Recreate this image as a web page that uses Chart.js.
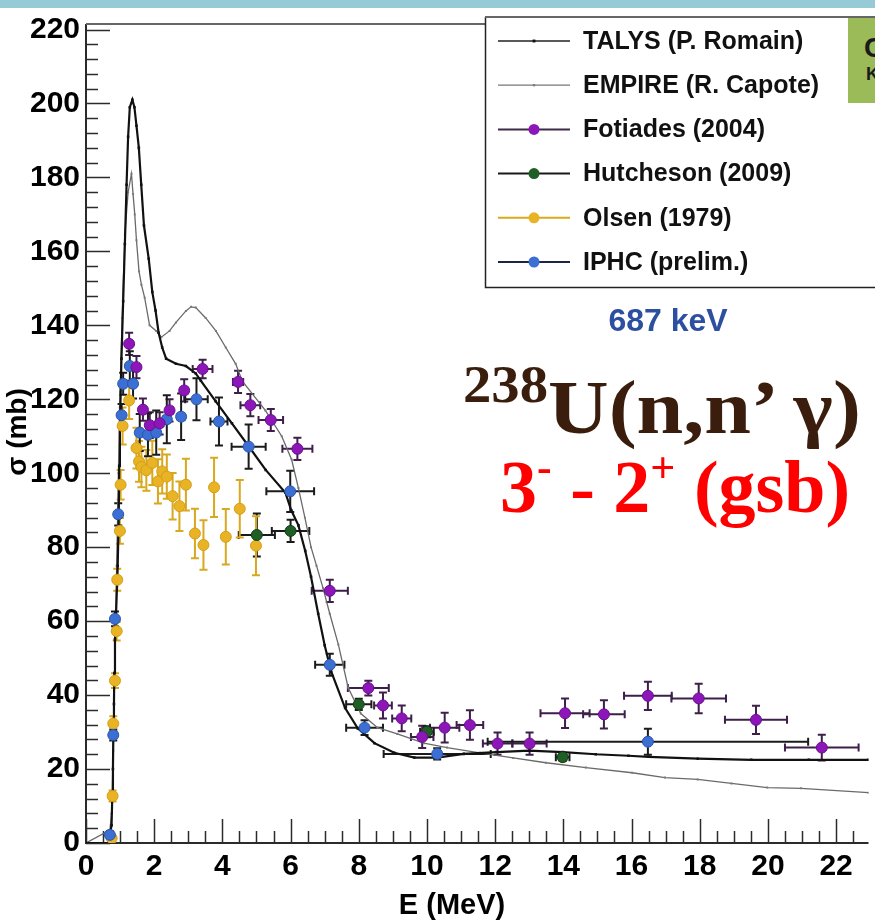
<!DOCTYPE html>
<html>
<head>
<meta charset="utf-8">
<script src="https://cdn.jsdelivr.net/npm/chart.js@4.4.1/dist/chart.umd.min.js"></script>
<style>
    body { margin: 0; background: #fff; }
    #wrap { position: relative; width: 875px; height: 920px; overflow: hidden; }
    #band { position: absolute; left: 0; top: 0; width: 875px; height: 8px; background: #96cad6; }
    #greenBox { position: absolute; left: 848px; top: 18px; width: 40px; height: 85px; background: #9bbb59;
                font: bold 28px "Liberation Sans", Arial, sans-serif; color: #1a1a1a; overflow: hidden; }
    .note { position: absolute; white-space: nowrap; font-weight: bold; line-height: 1; }
    #energy { left: 668px; top: 320px; transform: translate(-50%, -50%); color: #2d4fa0;
              font-family: "Liberation Sans", Arial, sans-serif; font-size: 32px; }
    #reaction { left: 463px; top: 369px; color: #3a1d0c; font-family: "Liberation Serif", "Times New Roman", serif; font-size: 77px;
                transform: scaleX(1.09); transform-origin: left top; }
    #reaction span { font-size: 52px; position: relative; top: -31px; }
    #transition { left: 500px; top: 450px; color: #ff0000; font-family: "Liberation Serif", "Times New Roman", serif; font-size: 74px; }
    #transition span { font-size: 44px; position: relative; top: -30px; }
</style>
</head>
<body>
<div id="wrap">
    <canvas id="xsChart" width="875" height="920"></canvas>
    <div id="band"></div>
    <div id="greenBox"><div style="position:absolute;left:16px;top:14px">C</div><div style="position:absolute;left:18px;top:46px;font-size:18px">K</div></div>
    <div class="note" id="energy">687 keV</div>
    <div class="note" id="reaction"><span>238</span>U(n,n’ γ)</div>
    <div class="note" id="transition">3<span>-</span> - 2<span>+</span> (gsb)</div>
</div>

<script>
// TALYS calculation (P. Romain)
const talysE = [0, 0.66, 0.75, 0.77, 0.79, 0.80, 0.82, 0.83, 0.85, 0.88, 0.93, 0.96, 0.975, 0.995, 1.04, 1.09, 1.14, 1.19, 1.235, 1.285,
    1.36, 1.42, 1.48, 1.55, 1.62, 1.70, 1.84, 1.945, 2.04, 2.13, 2.235, 2.35, 2.64, 2.93, 3.22, 3.37, 3.8, 4.28, 4.77, 5.27,
    5.85, 6.02, 6.23, 6.43, 6.6, 6.81, 7.0, 7.19, 7.6, 7.97, 8.46, 9.04, 9.63, 10.3, 11.08, 12.04, 13.0, 13.99, 14.95, 15.91,
    16.5, 17.94, 19.51, 21.2, 22.95];
const talysSigma = [0, 0, 4.8, 12.3, 20, 28, 37.6, 46, 55, 61.7, 75, 88.5, 102, 112.7, 131, 146.5, 162, 178, 191, 199,
    201, 199, 194, 188, 178, 167, 158, 149, 144, 138, 134, 131, 129.6, 129, 127, 125, 119.5, 113.5, 107.3, 100.9,
    94.7, 90, 85.9, 79, 72, 62, 53.5, 46.4, 36.5, 31, 27, 24.4, 23.1, 23.1, 24.1, 24.6, 25, 24.6, 24, 23.6,
    23.3, 22.8, 22.5, 22.5, 22.5];

// EMPIRE calculation (R. Capote)
const empireE = [0, 0.7, 0.75, 0.8, 0.85, 0.9, 0.95, 1.0, 1.06, 1.14, 1.235, 1.334, 1.38, 1.43, 1.48, 1.555, 1.625, 1.72, 1.865, 2.06,
    2.21, 2.45, 2.64, 2.93, 3.08, 3.22, 3.51, 3.81, 4.10, 4.39, 4.58, 5.26, 5.74, 6.03, 6.23, 6.42, 6.6, 6.76, 6.95, 7.15,
    7.4, 7.69, 8.06, 8.55, 9.13, 9.91, 10.59, 11.55, 12.53, 13.49, 14.66, 16.02, 16.98, 17.94, 18.93, 19.98, 20.97, 22.95];
const empireSigma = [0, 3.5, 8, 25, 50, 75, 100, 122, 142, 164.5, 176, 181, 175.5, 170, 163, 154.6, 151, 147.5, 140, 138.5,
    136.8, 138.5, 140.8, 143.9, 145, 144.8, 142, 138.5, 134, 129.6, 125, 117, 110, 103.7, 96, 88, 80, 75, 69, 62,
    53.7, 42, 35, 31.2, 29.5, 27, 25.8, 24.4, 23, 21.7, 20.4, 19, 17.7, 17.2, 16.1, 15, 14.8, 13.6];

// Fotiades (2004)
const fotiadesE = [1.265, 1.48, 1.67, 1.87, 2.16, 2.45, 2.88, 3.42, 4.46, 4.82, 5.42, 6.2, 7.15, 8.28, 8.71, 9.26, 9.86, 10.52,
    11.26, 12.07, 13.01, 14.05, 15.19, 16.48, 17.97, 19.65, 21.58];
const fotiadesSigma = [135, 128.7, 117.2, 113, 113.5, 117, 122.4, 128.2, 124.7, 118.4, 114.4, 106.6, 68.2, 41.9, 37.2, 33.7, 28.7, 31.2,
    31.9, 26.9, 26.9, 35.1, 34.8, 39.8, 39.1, 33.3, 25.8];
const fotiadesDE = [0.05, 0.05, 0.05, 0.05, 0.05, 0.1, 0.1, 0.29, 0.15, 0.29, 0.36, 0.44, 0.53, 0.6, 0.26, 0.28, 0.33, 0.43,
    0.39, 0.43, 0.5, 0.72, 0.61, 0.7, 0.8, 0.91, 1.08];
const fotiadesDSigma = [3, 3, 3, 3.5, 3, 3, 3, 2.5, 3, 3, 3, 3, 3, 2, 3.5, 3.5, 3, 4, 4, 3, 3, 4, 3.8, 3.8, 4, 3.8, 3.5];

// Hutcheson (2009)
const hutchesonE = [5.01, 6.0, 8.0, 10.0, 13.98];
const hutchesonSigma = [83.3, 84.4, 37.5, 30.1, 23.2];
const hutchesonDE = [0.53, 0.55, 0.37, 0.2, 0.2];
const hutchesonDSigma = [5.8, 3, 1.5, 1.5, 1];

// Olsen (1979)
const olsenE = [0.753, 0.78, 0.80, 0.85, 0.90, 0.916, 0.994, 1.015, 1.073, 1.265, 1.48, 1.555, 1.625, 1.77, 1.945, 2.11, 2.235,
    2.37, 2.54, 2.74, 2.93, 3.195, 3.445, 3.756, 4.10, 4.51, 4.985];
const olsenSigma = [1.3, 12.7, 32.3, 43.9, 57.3, 71.2, 84.4, 96.9, 112.8, 119.7, 106.8, 103.2, 101.7, 100.8, 102.8, 97.8, 100.5,
    99.1, 93.8, 91.1, 96.9, 83.7, 80.6, 96.2, 82.8, 90.4, 80.4];
const olsenDSigma = [1, 1.5, 2, 2, 2.5, 3, 3.5, 4, 5, 5, 5.5, 5.5, 5.5, 5.5, 6, 6, 6, 6, 6.3, 6.7, 7, 6.7, 6.7, 8, 7.5, 7.8, 8];

// IPHC (prelim.)
const iphcE = [0.70, 0.80, 0.85, 0.945, 1.044, 1.09, 1.285, 1.38, 1.576, 1.817, 2.06, 2.37, 2.79, 3.24, 3.90, 4.77, 5.99, 7.15,
    8.17, 10.3, 16.48];
const iphcSigma = [2.2, 29.2, 60.6, 88.9, 115.7, 124.2, 129, 124.2, 111, 110.4, 111, 114.6, 115.3, 120, 114, 107.2, 95.1, 48.2,
    31.2, 24.1, 27.4];
const iphcDE = [0.02, 0.02, 0.02, 0.02, 0.02, 0.02, 0.02, 0.02, 0.05, 0.05, 0.05, 0.1, 0.1, 0.33, 0.25, 0.5, 0.7, 0.43, 0.54, 1.57, 4.7];
const iphcDSigma = [1, 1.5, 2, 3, 3, 3, 4, 4, 5, 5.8, 6, 6.5, 6.3, 5.7, 6.5, 6, 5.6, 3, 2, 1.5, 3.5];

function points(xs, ys, dxs, dys) {
    return xs.map((x, i) => ({ x: x, y: ys[i], dx: dxs ? dxs[i] : 0, dy: dys ? dys[i] : 0 }));
}

const fontFamily = '"Liberation Sans", Arial, sans-serif';

// ROOT style frame: axes lines, inner ticks, axis titles
const frame = {
    id: 'frame',
    beforeDatasetsDraw(chart) {
        const { ctx, chartArea: a, scales: { x, y } } = chart;
        ctx.save();
        ctx.strokeStyle = '#2b2b2b';
        ctx.lineWidth = 1.5;
        for (let v = 0; v <= 221; v += 4) {
            const py = Math.round(y.getPixelForValue(v)) + 0.5;
            const len = v % 20 === 0 ? 24 : 12;
            ctx.beginPath(); ctx.moveTo(a.left, py); ctx.lineTo(a.left + len, py); ctx.stroke();
        }
        for (let v = 0; v <= 22.95; v += 0.5) {
            const px = Math.round(x.getPixelForValue(v)) + 0.5;
            const len = v % 2 === 0 ? 24 : 12;
            ctx.beginPath(); ctx.moveTo(px, a.bottom); ctx.lineTo(px, a.bottom - len); ctx.stroke();
        }
        ctx.lineWidth = 2;
        ctx.beginPath(); ctx.moveTo(a.left, a.top); ctx.lineTo(a.left, a.bottom); ctx.lineTo(a.right, a.bottom); ctx.stroke();
        ctx.strokeStyle = '#666';
        ctx.beginPath(); ctx.moveTo(a.left, a.top); ctx.lineTo(a.right, a.top); ctx.stroke();
        ctx.restore();
    },
    afterDraw(chart) {
        const { ctx } = chart;
        ctx.save();
        ctx.fillStyle = '#000';
        ctx.font = 'bold 29px ' + fontFamily;
        ctx.textAlign = 'center';
        ctx.textBaseline = 'middle';
        ctx.fillText('E (MeV)', 452, 906);
        ctx.translate(18, 432);
        ctx.rotate(-Math.PI / 2);
        ctx.font = 'bold 28px ' + fontFamily;
        ctx.fillText('σ (mb)', 0, 0);
        ctx.restore();
    }
};

const errorBars = {
    id: 'errorBars',
    beforeDatasetsDraw(chart) {
        const { ctx, scales: { x, y } } = chart;
        ctx.save();
        ctx.lineWidth = 2;
        chart.data.datasets.forEach(ds => {
            if (!ds.errColor) return;
            ctx.strokeStyle = ds.errColor;
            ds.data.forEach(p => {
                const px = x.getPixelForValue(p.x), py = y.getPixelForValue(p.y);
                if (p.dy) {
                    const y1 = y.getPixelForValue(p.y - p.dy), y2 = y.getPixelForValue(p.y + p.dy);
                    ctx.beginPath();
                    ctx.moveTo(px, y1); ctx.lineTo(px, y2);
                    ctx.moveTo(px - 4, y1); ctx.lineTo(px + 4, y1);
                    ctx.moveTo(px - 4, y2); ctx.lineTo(px + 4, y2);
                    ctx.stroke();
                }
                if (p.dx) {
                    const x1 = x.getPixelForValue(p.x - p.dx), x2 = x.getPixelForValue(p.x + p.dx);
                    ctx.beginPath();
                    ctx.moveTo(x1, py); ctx.lineTo(x2, py);
                    ctx.moveTo(x1, py - 4); ctx.lineTo(x1, py + 4);
                    ctx.moveTo(x2, py - 4); ctx.lineTo(x2, py + 4);
                    ctx.stroke();
                }
            });
        });
        ctx.restore();
    }
};

// legend box in the upper right corner, like the ROOT TLegend
const legendBox = {
    id: 'legendBox',
    afterDraw(chart) {
        const { ctx } = chart;
        ctx.save();
        ctx.fillStyle = '#fff';
        ctx.fillRect(485, 17, 400, 270);
        ctx.strokeStyle = '#222';
        ctx.lineWidth = 1.5;
        ctx.beginPath(); ctx.moveTo(485.5, 17); ctx.lineTo(485.5, 287.5); ctx.lineTo(875, 287.5); ctx.stroke();
        ctx.strokeStyle = '#666';
        ctx.lineWidth = 2;
        ctx.beginPath(); ctx.moveTo(485, 17); ctx.lineTo(875, 17); ctx.stroke();
        chart.data.datasets.forEach((ds, i) => {
            const cy = 41 + i * 44.2;
            ctx.strokeStyle = ds.legendLine;
            ctx.lineWidth = ds.legendWidth;
            ctx.beginPath(); ctx.moveTo(498, cy); ctx.lineTo(570, cy); ctx.stroke();
            ctx.fillStyle = ds.pointBackgroundColor;
            if (ds.pointStyle === 'rect') {
                const s = ds.pointRadius * 1.6;
                ctx.fillRect(534 - s / 2, cy - s / 2, s, s);
            } else {
                ctx.beginPath(); ctx.arc(534, cy, 5.5, 0, Math.PI * 2); ctx.fill();
            }
            ctx.fillStyle = '#111';
            ctx.font = 'bold 25px ' + fontFamily;
            ctx.textAlign = 'left';
            ctx.textBaseline = 'middle';
            ctx.fillText(ds.label, 583, cy + 1);
        });
        ctx.restore();
    }
};

const ctx = document.getElementById('xsChart').getContext('2d');
const xsChart = new Chart(ctx, {
    type: 'scatter',
    data: {
        datasets: [{
            label: 'TALYS (P. Romain)',
            data: points(talysE, talysSigma),
            showLine: true,
            borderColor: '#111',
            borderWidth: 2.2,
            pointStyle: 'rect',
            pointRadius: 1.8,
            pointBackgroundColor: '#111',
            pointBorderWidth: 0,
            legendLine: '#222', legendWidth: 1.5,
            order: 5
        }, {
            label: 'EMPIRE (R. Capote)',
            data: points(empireE, empireSigma),
            showLine: true,
            borderColor: '#6a6a6a',
            borderWidth: 1.3,
            pointStyle: 'rect',
            pointRadius: 1.4,
            pointBackgroundColor: '#7a7a7a',
            pointBorderWidth: 0,
            legendLine: '#777', legendWidth: 1.2,
            order: 6
        }, {
            label: 'Fotiades (2004)',
            data: points(fotiadesE, fotiadesSigma, fotiadesDE, fotiadesDSigma),
            pointRadius: 5.5,
            pointBackgroundColor: '#8c16b8',
            pointBorderColor: '#6c0f90',
            pointBorderWidth: 1,
            errColor: '#3d1f4a',
            legendLine: '#3d2a48', legendWidth: 2,
            order: 1
        }, {
            label: 'Hutcheson (2009)',
            data: points(hutchesonE, hutchesonSigma, hutchesonDE, hutchesonDSigma),
            pointRadius: 5.5,
            pointBackgroundColor: '#1f5e24',
            pointBorderColor: '#123d16',
            pointBorderWidth: 1,
            errColor: '#1a1a1a',
            legendLine: '#1a1a1a', legendWidth: 2,
            order: 1
        }, {
            label: 'Olsen (1979)',
            data: points(olsenE, olsenSigma, null, olsenDSigma),
            pointRadius: 5.5,
            pointBackgroundColor: '#e8b324',
            pointBorderColor: '#d59f18',
            pointBorderWidth: 1,
            errColor: '#d8a81e',
            legendLine: '#d8a81e', legendWidth: 2,
            order: 2
        }, {
            label: 'IPHC (prelim.)',
            data: points(iphcE, iphcSigma, iphcDE, iphcDSigma),
            pointRadius: 5.5,
            pointBackgroundColor: '#3b6fd4',
            pointBorderColor: '#2a55aa',
            pointBorderWidth: 1,
            errColor: '#1b1b1b',
            legendLine: '#1c2548', legendWidth: 2,
            order: 1
        }]
    },
    options: {
        responsive: false,
        animation: false,
        layout: { padding: { top: 17, right: 0, bottom: 0, left: 0 } },
        plugins: { legend: { display: false }, tooltip: { enabled: false } },
        scales: {
            x: {
                type: 'linear', min: 0, max: 22.95,
                grid: { display: false, drawTicks: false },
                border: { display: false },
                ticks: { stepSize: 2, includeBounds: false, padding: 6, maxRotation: 0, autoSkip: false, color: '#000',
                         font: { family: fontFamily, size: 30, weight: 'bold' } },
                afterFit(scale) { scale.height = 77; }
            },
            y: {
                type: 'linear', min: 0, max: 221.5,
                grid: { display: false, drawTicks: false },
                border: { display: false },
                ticks: { stepSize: 20, includeBounds: false, padding: 6, color: '#000',
                         font: { family: fontFamily, size: 30, weight: 'bold' } },
                afterFit(scale) { scale.width = 86; }
            }
        }
    },
    plugins: [frame, errorBars, legendBox]
});
</script>
</body>
</html>
